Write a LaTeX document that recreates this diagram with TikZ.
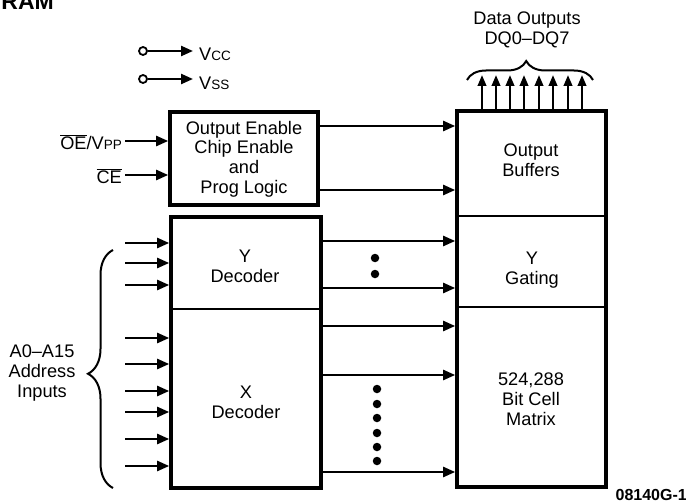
\documentclass[tikz,border=0pt]{standalone}
\usepackage{fontspec}
\setmainfont{Liberation Sans}
\usetikzlibrary{arrows.meta,decorations.pathreplacing}
\newcommand\pinsub{\fontsize{13.5}{13.5}\selectfont}
\begin{document}
\begin{tikzpicture}[x=1pt,y=-1pt,
  box/.style={draw,line width=3.6pt,rectangle,inner sep=0pt},
  sig/.style={line width=2.3pt,-{Triangle[length=12pt,width=10pt]}},
  osig/.style={line width=2.3pt,-{Triangle[length=11pt,width=8.5pt]}},
  lbl/.style={font=\fontsize{18.2}{19.8}\selectfont,align=center,inner sep=0pt},
  dotm/.style={circle,fill,inner sep=0pt,minimum size=8.5pt},
  brc/.style={line width=2pt,decorate}]
\useasboundingbox (0,0) rectangle (686,503);

% title fragment
\begin{scope}
\clip (0,0) rectangle (686,503);
\node[anchor=base east,inner sep=0pt,font=\bfseries\fontsize{23}{23}\selectfont] (ttl) at (54,10) {RAM};
\end{scope}

% power pins
\node[circle,draw,line width=1.8pt,minimum size=8pt,inner sep=0pt] (vcc0) at (143,51) {};
\coordinate (vcc1) at (193,51);
\draw[sig] (vcc0) -- (vcc1);
\node[lbl,anchor=west] (vcct) at (199,54) {V{\pinsub CC}};
\node[circle,draw,line width=1.8pt,minimum size=8pt,inner sep=0pt] (vss0) at (143,79) {};
\coordinate (vss1) at (193,79);
\draw[sig] (vss0) -- (vss1);
\node[lbl,anchor=west] (vsst) at (199,83) {V{\pinsub SS}};

% boxes
\node[box,minimum width=148pt,minimum height=93pt] (oe) at (244,158.5) {};
\node[box,minimum width=150pt,minimum height=271pt] (dec) at (246,352.5) {};
\node[box,minimum width=149pt,minimum height=376pt] (mem) at (531.5,299) {};
\coordinate (dl) at (171,309); \coordinate (dr) at (321,309);
\draw[line width=1.8pt] (dec.west |- dl) -- (dec.east |- dr);
\coordinate (m1) at (0,216); \coordinate (m2) at (0,307);
\draw[line width=1.8pt] (mem.west |- m1) -- (mem.east |- m1);
\draw[line width=1.8pt] (mem.west |- m2) -- (mem.east |- m2);

% box texts
\node[lbl] (oet) at (244,159) {Output Enable\\Chip Enable\\and\\Prog Logic};
\node[lbl] (ydt) at (245,266) {Y\\Decoder};
\node[lbl] (xdt) at (246,402) {X\\Decoder};
\node[lbl] (obt) at (531,160) {Output\\Buffers};
\node[lbl] (ygt) at (532,270) {Y\\Gating};
\node[lbl] (bct) at (531,399) {524,288\\Bit Cell\\Matrix};

% control inputs
\node[lbl,anchor=east] (oelbl) at (122,142) {$\overline{\mbox{OE}}$/V{\pinsub PP}};
\node[lbl,anchor=east] (celbl) at (122,176) {$\overline{\mbox{CE}}$};
\coordinate (oein) at (125,141);
\coordinate (cein) at (125,175);
\draw[sig] (oein) -- (oe.west |- oein);
\draw[sig] (cein) -- (oe.west |- cein);

% address inputs
\foreach \y [count=\i] in {243,263,285,338,364,391,412,439,466} {
  \coordinate (a\i) at (125,\y);
  \draw[sig] (a\i) -- (dec.west |- a\i);
}
\draw[brc,decoration={brace,amplitude=25pt,aspect=0.48}] (113,488) -- (113,250);
\node[lbl] (addr) at (42,373) {A0–A15\\Address\\Inputs};

% OE box to output buffers
\coordinate (o1) at (0,126); \coordinate (o2) at (0,190);
\draw[sig] (oe.east |- o1) -- (mem.west |- o1);
\draw[sig] (oe.east |- o2) -- (mem.west |- o2);

% decoder outputs
\foreach \y [count=\i] in {241,288,326,375,472} {
  \coordinate (d\i) at (0,\y);
  \draw[sig] (dec.east |- d\i) -- (mem.west |- d\i);
}
\node[dotm] (yd1) at (375,258) {};
\node[dotm] (yd2) at (375,274) {};
\foreach \y [count=\i] in {389,404,418,433,447,461} {
  \node[dotm] (xd\i) at (377,\y) {};
}

% data outputs
\foreach \x [count=\i] in {482,496,510,524,539,553,568,582} {
  \coordinate (q\i) at (\x,75);
  \draw[osig] (mem.north -| q\i) -- (q\i);
}
\draw[brc,decoration={brace,amplitude=19pt,aspect=0.47}] (467,80) -- (593,80);
\node[lbl] (dqt) at (527,30) {Data Outputs\\DQ0–DQ7};

% figure number
\node[anchor=east,inner sep=0pt,font=\bfseries\fontsize{16}{16}\selectfont] (fig) at (687,495) {08140G-1};
\end{tikzpicture}
\end{document}
